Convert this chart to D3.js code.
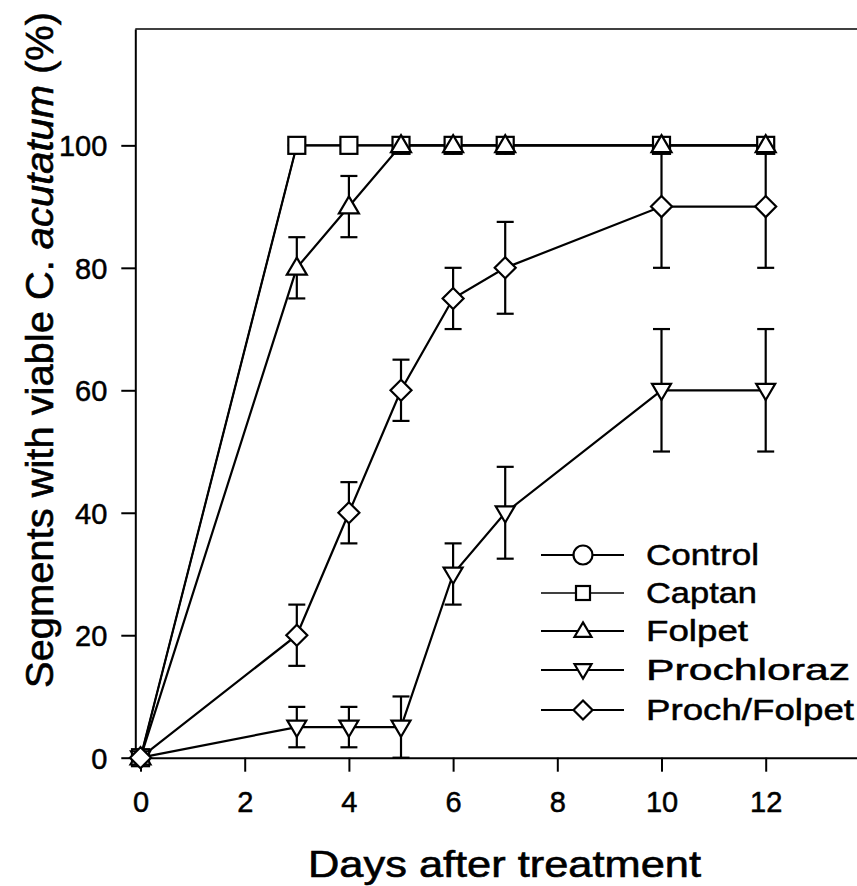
<!DOCTYPE html>
<html><head><meta charset="utf-8">
<script src="https://cdn.jsdelivr.net/npm/d3@7"></script>
<style>html,body{margin:0;padding:0;background:#fff;}svg{display:block;}</style>
</head><body>
<script>
const days = [0, 3, 4, 5, 6, 7, 10, 12];
const seriesNames = ["Control", "Captan", "Folpet", "Prochloraz", "Proch/Folpet"];
const controlVals = [0, 100, 100, 100, 100, 100, 100, 100];
const captanVals = [0, 100, 100, 100, 100, 100, 100, 100];
const folpetVals = [0, 80, 90, 100, 100, 100, 100, 100];
const folpetErr = [0, 5, 5, 0, 0, 0, 0, 0];
const prochVals = [0, 5, 5, 5, 30, 40, 60, 60];
const prochErr = [0, 3.3, 3.3, 5, 5, 7.5, 10, 10];
const pfVals = [0, 20, 40, 60, 75, 80, 90, 90];
const pfErr = [0, 5, 5, 5, 5, 7.5, 10, 10];
const xTicks = [0, 2, 4, 6, 8, 10, 12];
const yTicks = [0, 20, 40, 60, 80, 100];

const W = 857, H = 886;
const FONT = "'Liberation Sans', Arial, Helvetica, sans-serif";
const svg = d3.select("body").append("svg").attr("width", W).attr("height", H)
  .style("font-family", FONT);

const x = d3.scaleLinear().domain([-0.1, 14]).range([135.3, 869.9]);
const y = d3.scaleLinear().domain([0, 119]).range([757.7, 29]);

function heavy(sel, w) {
  sel.attr("stroke", "#000").attr("stroke-width", w).attr("fill", "#000");
}

// Axes
const gx = svg.append("g").attr("transform", `translate(0,${y(0)})`)
  .call(d3.axisBottom(x).tickValues(xTicks).tickSize(14).tickSizeOuter(0).tickFormat(d3.format("d")));
gx.select(".domain").attr("stroke-width", 2);
gx.selectAll(".tick line").attr("stroke-width", 2);
gx.selectAll(".tick text").attr("dy", null).attr("y", 54)
  .style("font-size", "29px").style("font-family", FONT).call(heavy, 0.5);

const gy = svg.append("g").attr("transform", `translate(${x(-0.1)},0)`)
  .call(d3.axisLeft(y).tickValues(yTicks).tickSize(14).tickSizeOuter(0).tickFormat(d3.format("d")));
gy.select(".domain").attr("stroke-width", 2);
gy.selectAll(".tick line").attr("stroke-width", 2);
gy.selectAll(".tick text").attr("dy", null).attr("x", -28).attr("y", 10.5)
  .style("font-size", "29px").style("font-family", FONT).call(heavy, 0.5);

// top frame line
svg.append("line").attr("x1", x(-0.1)).attr("x2", W).attr("y1", y(119)).attr("y2", y(119))
  .attr("stroke", "#000").attr("stroke-width", 1.5);

// Marker shapes
function marker(g, type, cx, cy, s) {
  let el;
  if (type === "circle") {
    el = g.append("circle").attr("cx", cx).attr("cy", cy).attr("r", s / 2);
  } else if (type === "square") {
    el = g.append("rect").attr("x", cx - s / 2).attr("y", cy - s / 2).attr("width", s).attr("height", s);
  } else if (type === "up") {
    const h = s * 0.85;
    el = g.append("path").attr("d", `M${cx},${cy - h * 0.6}L${cx + s / 2},${cy + h * 0.4}L${cx - s / 2},${cy + h * 0.4}Z`);
  } else if (type === "down") {
    const h = s * 0.85;
    el = g.append("path").attr("d", `M${cx},${cy + h * 0.6}L${cx + s / 2},${cy - h * 0.4}L${cx - s / 2},${cy - h * 0.4}Z`);
  } else if (type === "diamond") {
    el = g.append("path").attr("d", `M${cx},${cy - s / 2}L${cx + s / 2},${cy}L${cx},${cy + s / 2}L${cx - s / 2},${cy}Z`);
  }
  el.attr("fill", "#fff").attr("stroke", "#000").attr("stroke-width", 2.2);
}

const series = [
  {name: seriesNames[0], vals: controlVals, err: null, type: "circle", size: 16, sw: 2.2},
  {name: seriesNames[1], vals: captanVals, err: null, type: "square", size: 17, sw: 1.6},
  {name: seriesNames[2], vals: folpetVals, err: folpetErr, type: "up", size: 20, sw: 2.2},
  {name: seriesNames[3], vals: prochVals, err: prochErr, type: "down", size: 19, sw: 2.2},
  {name: seriesNames[4], vals: pfVals, err: pfErr, type: "diamond", size: 21, sw: 2.2}
];

const line = d3.line().x(d => x(d[0])).y(d => y(d[1]));
const plot = svg.append("g");
series.forEach(s => {
  if (!s.err) return;
  const g = plot.append("g");
  days.forEach((d, i) => {
    const e = s.err[i];
    if (!e) return;
    const cx = x(d);
    const lo = Math.max(0, s.vals[i] - e), hi = s.vals[i] + e;
    g.append("line").attr("x1", cx).attr("x2", cx).attr("y1", y(lo)).attr("y2", y(hi))
      .attr("stroke", "#000").attr("stroke-width", 2.2);
    [lo, hi].forEach(v => {
      g.append("line").attr("x1", cx - 8.5).attr("x2", cx + 8.5).attr("y1", y(v)).attr("y2", y(v))
        .attr("stroke", "#000").attr("stroke-width", 2.2);
    });
  });
});
series.forEach(s => {
  plot.append("path").datum(days.map((d, i) => [d, s.vals[i]])).attr("d", line)
    .attr("fill", "none").attr("stroke", "#000").attr("stroke-width", s.sw);
});
series.forEach(s => {
  const g = plot.append("g");
  days.forEach((d, i) => marker(g, s.type, x(d), y(s.vals[i]), s.size));
});

// Legend
const legBase = [565, 603, 641, 680, 720];
const legLen = [113, 111, 102, 204, 208];
const legSize = [19, 14, 17, 17, 19];
const lg = svg.append("g");
series.forEach((s, i) => {
  const cy = legBase[i] - 10;
  lg.append("line").attr("x1", 541).attr("x2", 624).attr("y1", cy).attr("y2", cy)
    .attr("stroke", "#000").attr("stroke-width", s.sw);
  marker(lg, s.type, 583, cy, legSize[i]);
  lg.append("text").attr("x", 646).attr("y", legBase[i]).text(s.name)
    .style("font-size", "30px").attr("textLength", legLen[i]).attr("lengthAdjust", "spacingAndGlyphs")
    .call(heavy, 0.5);
});

// Axis titles
svg.append("text").attr("x", 504.5).attr("y", 877).attr("text-anchor", "middle")
  .style("font-size", "37px").attr("textLength", 393).attr("lengthAdjust", "spacingAndGlyphs")
  .call(heavy, 0.6)
  .text("Days after treatment");

const yt = svg.append("text").attr("transform", "translate(53,350) rotate(-90)")
  .attr("text-anchor", "middle").style("font-size", "38px")
  .attr("textLength", 676).attr("lengthAdjust", "spacingAndGlyphs").call(heavy, 0.6);
yt.append("tspan").text("Segments with viable C. ");
yt.append("tspan").style("font-style", "italic").text("acutatum");
yt.append("tspan").text(" (%)");
</script>
</body></html>
